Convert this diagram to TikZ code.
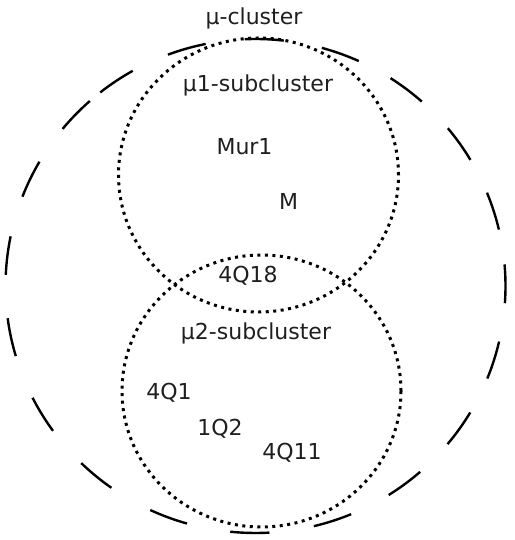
\documentclass[tikz,border=0pt]{standalone}
\usepackage{fontspec}
\setmainfont{DejaVu Sans}
\begin{document}
\begin{tikzpicture}[x=1pt,y=1pt,
  lbl/.style={inner sep=0pt,anchor=base,font=\fontsize{22}{26}\selectfont,text=black!88},
  dotcirc/.style={line width=3pt,dash pattern=on 3pt off 4.5pt},
  bigdash/.style={line width=2.4pt}]
\useasboundingbox (0,0) rectangle (514,540);
\fill[white] (0,0) rectangle (514,540);
\coordinate (C) at (255.5,254);
\coordinate (U) at (258.5,365);
\coordinate (L) at (261.5,149);
% outer dashed cluster
\foreach \a in {0.5,17.7,35.2,52.8,70.1,88,106,123.9,136,154.3,172.9,192,211.4,230.3,249.6,268.7,288,306.7,324.7,342.5}{
  \draw[bigdash] ([shift={(\a-4.5:250 and 247)}]C) arc[start angle=\a-4.5,end angle=\a+4.5,x radius=250,y radius=247];
}
% subclusters
\draw[dotcirc] (U) ellipse[x radius=140,y radius=137];
\draw[dotcirc] (L) ellipse[x radius=139.5,y radius=136];
% labels
\node[lbl] (mu) at (254,515) {μ-cluster};
\node[lbl] (mu1) at (258,448) {μ1-subcluster};
\node[lbl] (mur1) at (244.5,385) {Mur1};
\node[lbl] (m) at (288.5,330) {M};
\node[lbl] (q18) at (248,257) {4Q18};
\node[lbl] (mu2) at (256,200) {μ2-subcluster};
\node[lbl] (q1) at (169,140) {4Q1};
\node[lbl] (q2) at (220,104) {1Q2};
\node[lbl] (q11) at (292,80) {4Q11};
\end{tikzpicture}
\end{document}
